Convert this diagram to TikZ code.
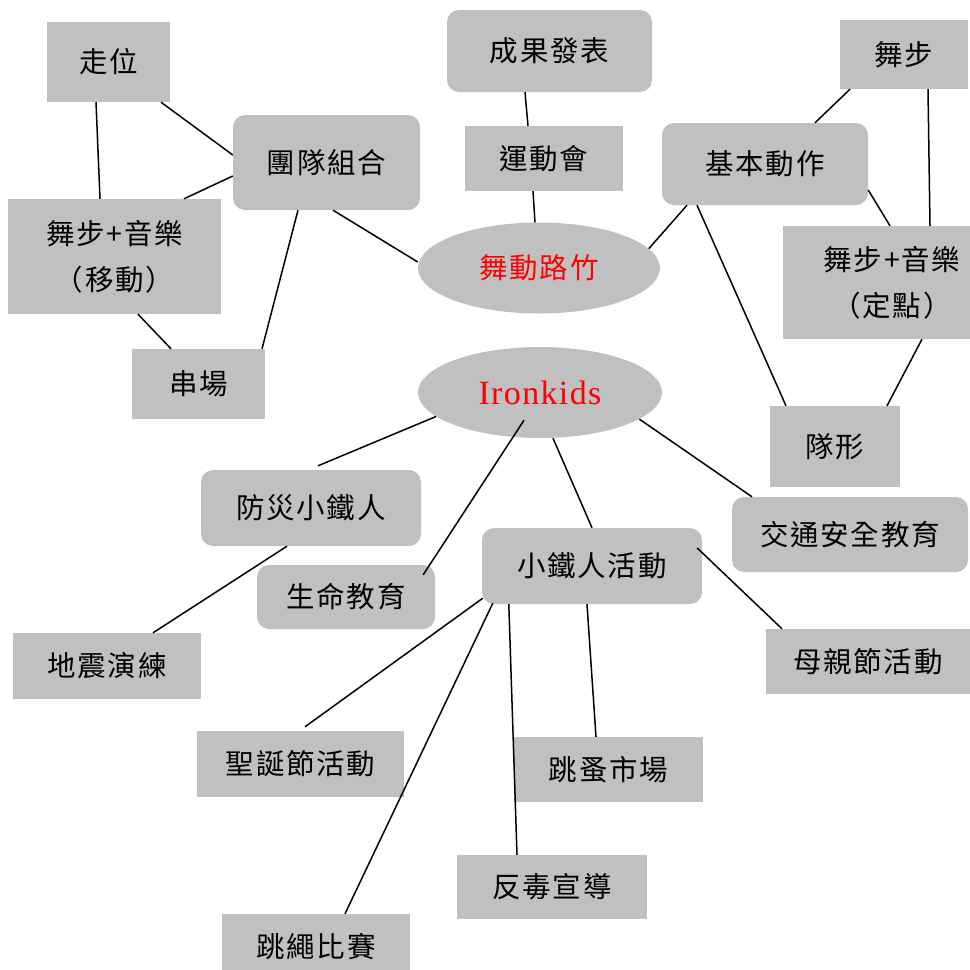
\documentclass[tikz,border=0pt]{standalone}
\usepackage{fontspec}
\usepackage{tikz}
\usetikzlibrary{shapes.geometric}
\newfontfamily\cjk[LetterSpace=6]{Noto Sans CJK TC}
\newfontfamily\latinfont[LetterSpace=4]{Liberation Serif}
\definecolor{boxgray}{RGB}{192,192,192}
\tikzset{
  plainbox/.style={rectangle, fill=boxgray, inner sep=0pt, font=\cjk\fontsize{28.5}{46}\selectfont, align=center},
  roundbox/.style={plainbox, rounded corners=12pt},
  hub/.style={ellipse, fill=boxgray, inner sep=0pt, text=red},
  link/.style={draw, line width=1.5pt}
}

\begin{document}
\begin{tikzpicture}[x=1pt,y=-1pt]
\useasboundingbox (0,0) rectangle (970,970);
\clip (0,0) rectangle (970,970);
% upper part
\node [hub, minimum width=242pt, minimum height=91pt, font=\cjk\fontsize{28.5}{30}\selectfont] (wudong) at (539,268) {舞動路竹};
\node [plainbox, minimum width=123pt, minimum height=80pt] (zouwei) at (108.5,62) {走位};
\node [roundbox, minimum width=187pt, minimum height=95pt] (tuandui) at (326.5,162.5) {團隊組合};
\node [plainbox, minimum width=213pt, minimum height=115pt] (yidong) at (114.5,256.5) {舞步+音樂\\（移動）};
\node [plainbox, minimum width=133pt, minimum height=70pt] (chuanchang) at (198.5,384) {串場};
\node [roundbox, minimum width=205pt, minimum height=82pt] (chengguo) at (549.5,51) {成果發表};
\node [plainbox, minimum width=158pt, minimum height=65pt] (yundong) at (544,158.5) {運動會};
\node [roundbox, minimum width=206pt, minimum height=82pt] (jiben) at (765,164) {基本動作};
\node [plainbox, minimum width=128pt, minimum height=69pt] (wubu) at (904,54.5) {舞步};
\node [plainbox, minimum width=218pt, minimum height=113pt] (dingdian) at (892,282.5) {舞步+音樂\\（定點）};
\node [plainbox, minimum width=130pt, minimum height=81pt] (duixing) at (835,446.5) {隊形};
% lower part
\node [hub, minimum width=244pt, minimum height=91pt, font=\latinfont\fontsize{34}{36}\selectfont] (ironkids) at (540,392.5) {Ironkids};
\node [roundbox, minimum width=220pt, minimum height=76pt] (fangzai) at (311,508) {防災小鐵人};
\node [roundbox, minimum width=178pt, minimum height=64pt] (shengming) at (346,597) {生命教育};
\node [plainbox, minimum width=188pt, minimum height=66pt] (dizhen) at (107,666) {地震演練};
\node [roundbox, minimum width=220pt, minimum height=76pt] (xiaotie) at (592,566) {小鐵人活動};
\node [roundbox, minimum width=236pt, minimum height=75pt] (jiaotong) at (850,534.5) {交通安全教育};
\node [plainbox, minimum width=204pt, minimum height=65pt] (muqin) at (868,661.5) {母親節活動};
\node [plainbox, minimum width=207pt, minimum height=66pt] (shengdan) at (300.5,764) {聖誕節活動};
\node [plainbox, minimum width=189pt, minimum height=65pt] (tiaozao) at (608.5,769.5) {跳蚤市場};
\node [plainbox, minimum width=190pt, minimum height=64pt] (fandu) at (552,887) {反毒宣導};
\node [plainbox, minimum width=188pt, minimum height=66pt] (tiaosheng) at (316,947) {跳繩比賽};

\draw [link] ([xshift=-12.5pt]zouwei.south) -- ([xshift=-14.5pt]yidong.north);
\draw [link] ([xshift=52.5pt]zouwei.south) -- ([yshift=7.5pt]tuandui.west);
\draw [link] ([yshift=-13.5pt]tuandui.west) -- ([xshift=69.5pt]yidong.north);
\draw [link] ([xshift=-28.5pt]tuandui.south) -- ([xshift=63.5pt]chuanchang.north);
\draw [link] ([xshift=23.5pt]yidong.south) -- ([xshift=-27.5pt]chuanchang.north);
\draw [link] ([xshift=6.5pt]tuandui.south) -- ([yshift=6pt]wudong.west);
\draw [link] ([xshift=-24.5pt]chengguo.south) -- ([xshift=-16pt]yundong.north);
\draw [link] ([xshift=-11pt]yundong.south) -- ([xshift=-4pt]wudong.north);
\draw [link] (wudong.10) -- ([xshift=-78pt]jiben.south);
\draw [link] ([xshift=-54pt]wubu.south) -- ([xshift=50pt]jiben.north);
\draw [link] ([xshift=24pt]wubu.south) -- ([xshift=38pt]dingdian.north);
\draw [link] ([yshift=-26pt]jiben.east) -- ([xshift=-2pt]dingdian.north);
\draw [link] ([xshift=-68pt]jiben.south) -- ([xshift=-49pt]duixing.north);
\draw [link] ([xshift=30pt]dingdian.south) -- ([xshift=52pt]duixing.north);

\draw [link] (ironkids.193) -- ([xshift=7pt,yshift=4pt]fangzai.north);
\draw [link] ([xshift=-16pt,yshift=18pt]ironkids.south) -- ([xshift=-12pt,yshift=-10pt]shengming.north east);
\draw [link] ([xshift=13pt]ironkids.south) -- (xiaotie.north);
\draw [link] (ironkids.-15) -- ([xshift=-98pt]jiaotong.north);
\draw [link] ([xshift=-24pt]fangzai.south) -- ([xshift=46pt]dizhen.north);
\draw [link] ([xshift=-5pt,yshift=18pt]xiaotie.east) -- ([xshift=-86pt]muqin.north);
\draw [link] ([xshift=1pt,yshift=6pt]xiaotie.south west) -- ([xshift=4.5pt,yshift=4pt]shengdan.north);
\draw [link] ([xshift=11pt,yshift=1pt]xiaotie.south west) -- ([xshift=29pt]tiaosheng.north);
\draw [link] ([xshift=27pt]xiaotie.south west) -- ([xshift=-35pt]fandu.north);
\draw [link] ([xshift=-5pt]xiaotie.south) -- ([xshift=-12.5pt]tiaozao.north);
\end{tikzpicture}
\end{document}
